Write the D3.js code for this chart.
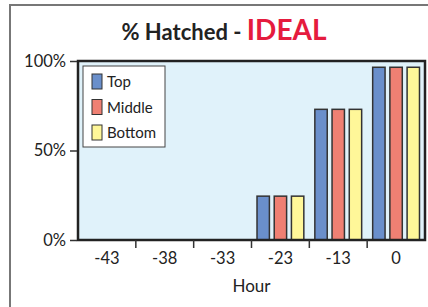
<!DOCTYPE html>
<html>
<head>
<meta charset="utf-8">
<script src="https://cdn.jsdelivr.net/npm/d3@7"></script>
<style>
  body { margin: 0; background: #fff; }
  svg text { font-family: "Lato", "DejaVu Sans", sans-serif; fill: #222; }
</style>
</head>
<body>
<svg id="chart" width="428" height="307"></svg>
<script>
// chart values
var hours = ["-43", "-38", "-33", "-23", "-13", "0"];
var series = ["Top", "Middle", "Bottom"];
var topVals = [0, 0, 0, 24.5, 73, 96.5];
var middleVals = [0, 0, 0, 24.5, 73, 96.5];
var bottomVals = [0, 0, 0, 24.5, 73, 96.5];
var yTicks = [0, 50, 100];
var colors = ["#6a8fcb", "#ef8073", "#fff799"];

var svg = d3.select("#chart");

var margin = {left: 78, top: 61, right: 3, bottom: 67};
var width = 428 - margin.left - margin.right;
var height = 307 - margin.top - margin.bottom;

// outer frame
svg.append("rect")
    .attr("x", 10).attr("y", 5)
    .attr("width", 440).attr("height", 320)
    .attr("fill", "none")
    .attr("stroke", "#777")
    .attr("stroke-width", 2);

// title
var title = svg.append("text")
    .attr("x", 224).attr("y", 40)
    .attr("text-anchor", "middle")
    .style("font-weight", "bold");
title.append("tspan").text("% Hatched - ").style("font-size", "22px");
title.append("tspan").text("IDEAL").style("font-size", "28px").style("fill", "#e51b3e");

var g = svg.append("g").attr("transform", "translate(" + margin.left + "," + margin.top + ")");

var x0 = d3.scaleBand().domain(hours).range([0, width]);
var x1 = d3.scaleBand().domain(series).range([0, x0.bandwidth()])
    .paddingInner(0.28).paddingOuter(0.32);
var y = d3.scaleLinear().domain([0, 100]).range([height, 0]);

g.append("rect")
    .attr("width", width).attr("height", height)
    .attr("fill", "#e0f2fa");

var rows = hours.map(function (h, i) {
    return {hour: h, values: [topVals[i], middleVals[i], bottomVals[i]]};
});

var groups = g.selectAll(".grp")
    .data(rows)
    .enter().append("g")
    .attr("class", "grp")
    .attr("transform", function (d) { return "translate(" + x0(d.hour) + ",0)"; });

groups.selectAll("rect")
    .data(function (d) {
        return d.values.map(function (v, k) { return {key: series[k], value: v, k: k}; })
            .filter(function (e) { return e.value > 0; });
    })
    .enter().append("rect")
    .attr("x", function (d) { return x1(d.key); })
    .attr("y", function (d) { return y(d.value); })
    .attr("width", x1.bandwidth())
    .attr("height", function (d) { return y(0) - y(d.value); })
    .attr("fill", function (d) { return colors[d.k]; })
    .attr("stroke", "#333")
    .attr("stroke-width", 1.5);

// plot border
g.append("rect")
    .attr("width", width).attr("height", height)
    .attr("fill", "none")
    .attr("stroke", "#222")
    .attr("stroke-width", 2.5);

// y axis
var yAxis = d3.axisLeft(y).tickValues(yTicks)
    .tickFormat(function (d) { return d + "%"; })
    .tickSize(7).tickPadding(4);
var yg = g.append("g").attr("transform", "translate(-1,0)").call(yAxis);
yg.select(".domain").remove();
yg.selectAll("line").attr("stroke", "#333").attr("stroke-width", 1.5);
yg.selectAll("text").style("font-size", "16.5px").style("font-family", "Lato, sans-serif").attr("fill", "#222");

// x axis: labels centred, ticks between bands
var xAxis = d3.axisBottom(x0).tickSize(0).tickPadding(12);
var xg = g.append("g").attr("transform", "translate(0," + height + ")").call(xAxis);
xg.select(".domain").remove();
xg.selectAll("text").style("font-size", "16.5px").style("font-family", "Lato, sans-serif").attr("fill", "#222");

g.selectAll(".xtick")
    .data(hours.slice(1))
    .enter().append("line")
    .attr("class", "xtick")
    .attr("x1", function (d) { return x0(d); })
    .attr("x2", function (d) { return x0(d); })
    .attr("y1", height)
    .attr("y2", height + 8)
    .attr("stroke", "#333")
    .attr("stroke-width", 1.5);

g.append("text")
    .attr("x", width / 2)
    .attr("y", height + 52)
    .attr("text-anchor", "middle")
    .style("font-size", "17px")
    .text("Hour");

// legend
var lg = svg.append("g").attr("transform", "translate(83,66)");
lg.append("rect")
    .attr("width", 82).attr("height", 81)
    .attr("fill", "#fff")
    .attr("stroke", "#444")
    .attr("stroke-width", 1);

var items = lg.selectAll(".item")
    .data(series)
    .enter().append("g")
    .attr("class", "item")
    .attr("transform", function (d, i) { return "translate(9," + (8 + i * 25.5) + ")"; });
items.append("rect")
    .attr("width", 10).attr("height", 15)
    .attr("fill", function (d, i) { return colors[i]; })
    .attr("stroke", "#333")
    .attr("stroke-width", 1);
items.append("text")
    .attr("x", 15).attr("y", 13)
    .style("font-size", "15px")
    .text(function (d) { return d; });
</script>
</body>
</html>
